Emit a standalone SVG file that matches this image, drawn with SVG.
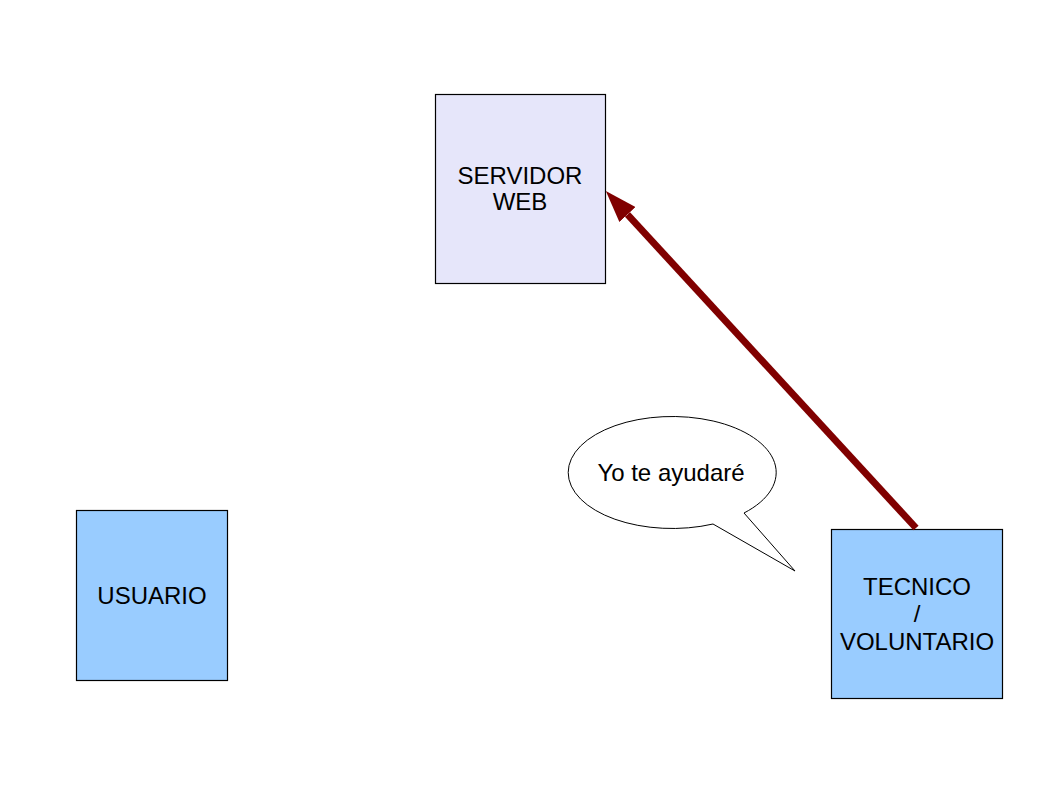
<svg xmlns="http://www.w3.org/2000/svg" width="1059" height="795" viewBox="0 0 1059 795">
<style>
.box{stroke:#000;stroke-width:1.2}
.lbl{font-family:"Liberation Sans",Arial,sans-serif;font-size:24px;fill:#000;text-anchor:middle}
.conn{stroke:#800000;stroke-width:7;fill:none}
</style>
<defs>
<marker id="ah" markerUnits="userSpaceOnUse" viewBox="0 0 32 22" refX="0" refY="11" markerWidth="32" markerHeight="22" orient="auto">
<path d="M0,0 L32,11 L0,22 z" fill="#800000"/>
</marker>
</defs>
<rect width="1059" height="795" fill="#fff"/>
<g id="servidor">
<rect class="box" x="435.5" y="94.5" width="170" height="189" fill="#e6e6fa"/>
<text class="lbl" x="520" y="184">SERVIDOR</text>
<text class="lbl" x="520" y="210">WEB</text>
</g>
<g id="usuario">
<rect class="box" x="76.5" y="510.5" width="151" height="170" fill="#99ccff"/>
<text class="lbl" x="152" y="604">USUARIO</text>
</g>
<g id="tecnico">
<rect class="box" x="831.5" y="529.5" width="171" height="169" fill="#99ccff"/>
<text class="lbl" x="917" y="595">TECNICO</text>
<text class="lbl" x="917" y="622">/</text>
<text class="lbl" x="917" y="650">VOLUNTARIO</text>
</g>
<g id="bocadillo">
<path d="M713,524 L795,571 L744,513 A104,56 0 1 0 713,524 Z" fill="#fff" stroke="#000" stroke-width="1"/>
<text class="lbl" x="671" y="481">Yo te ayudaré</text>
</g>
<g id="connectors">
<line class="conn" x1="916" y1="528" x2="627.5" y2="214.5" marker-end="url(#ah)"/>
</g>
</svg>
